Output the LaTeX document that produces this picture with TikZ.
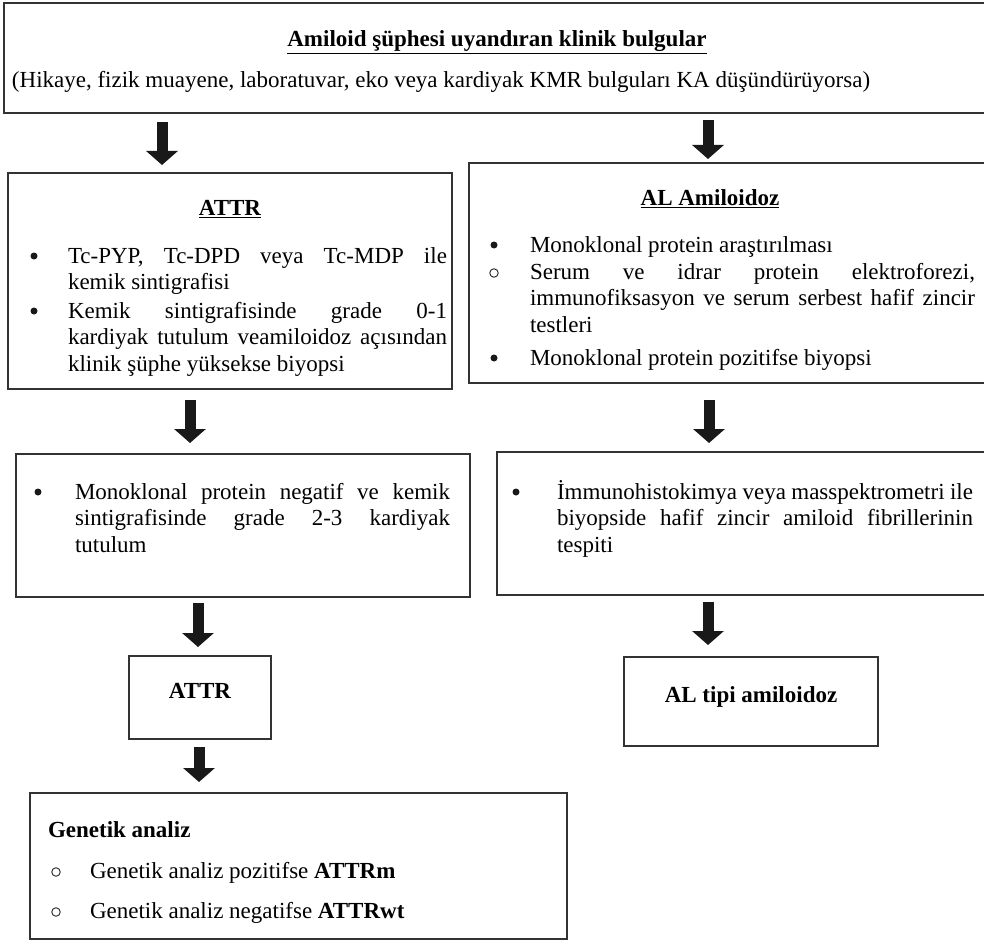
\documentclass[tikz,border=0pt]{standalone}
\usepackage{fontspec}
\setmainfont{Liberation Serif}
\usetikzlibrary{arrows.meta}
\hbadness=10000
\hfuzz=20pt
\tikzset{
 box/.style={draw=black!80, line width=1.3pt, inner sep=0pt, outer sep=0pt, anchor=north west},
 txt/.style={inner sep=0pt, outer sep=0pt, anchor=base west, font=\fontsize{23}{26.5}\selectfont},
 ctxt/.style={inner sep=0pt, outer sep=0pt, anchor=base, font=\bfseries\fontsize{23}{26.5}\selectfont},
 btxt/.style={inner sep=0pt, outer sep=0pt, anchor=base west, font=\bfseries\fontsize{23}{26.5}\selectfont},
 fbullet/.style={circle, fill=black!90, inner sep=0pt, minimum size=7pt},
 hbullet/.style={circle, draw=black!85, line width=0.9pt, inner sep=0pt, minimum size=8.5pt},
 blockarrow/.style={line width=11pt, draw=black!90, -{Triangle[width=31pt,length=14pt]}},
}
\newcommand{\para}[2]{\parbox[t]{#1pt}{\fontsize{23}{26.5}\selectfont #2}}
\begin{document}
\begin{tikzpicture}[x=1pt,y=-1pt]
\useasboundingbox (0,0) rectangle (984,941);
\fill[white] (0,0) rectangle (984,941);
% boxes
\node[box, minimum width=1000pt, minimum height=110pt] (top) at (4,3) {};
\node[box, minimum width=444pt, minimum height=216pt] (attr) at (8,173) {};
\node[box, minimum width=530pt, minimum height=220pt] (al) at (469,163) {};
\node[box, minimum width=454pt, minimum height=143pt] (mono) at (16,454) {};
\node[box, minimum width=500pt, minimum height=143pt] (immuno) at (497,452) {};
\node[box, minimum width=142pt, minimum height=83pt] (attrs) at (129,656) {};
\node[box, minimum width=254pt, minimum height=89pt] (altipi) at (624,657) {};
\node[box, minimum width=537pt, minimum height=146pt] (genetik) at (30,793) {};
% top texts
\node[ctxt] (t1) at (497,47) {\underline{Amiloid şüphesi uyandıran klinik bulgular}};
\node[txt] (t2) at (12,88) {(Hikaye, fizik muayene, laboratuvar, eko veya kardiyak KMR bulguları KA düşündürüyorsa)};
% ATTR box
\node[ctxt] (attrT) at (230,216) {\underline{ATTR}};
\node[fbullet] (ab1) at (34,256) {};
\node[txt] (ai1) at (68,263) {\para{379}{Tc-PYP, Tc-DPD veya Tc-MDP ile\linebreak kemik sintigrafisi}};
\node[fbullet] (ab2) at (34,311) {};
\node[txt] (ai2) at (68,318) {\para{379}{Kemik sintigrafisinde grade 0-1\linebreak kardiyak tutulum veamiloidoz açısından\linebreak klinik şüphe yüksekse biyopsi}};
% AL box
\node[ctxt] (alT) at (710,206) {\underline{AL Amiloidoz}};
\node[fbullet] (lb1) at (494,245) {};
\node[txt] (li1) at (530,252) {Monoklonal protein araştırılması};
\node[hbullet] (lb2) at (494,273) {};
\node[txt] (li2) at (530,279) {\para{445}{Serum ve idrar protein elektroforezi,\linebreak immunofiksasyon ve serum serbest hafif zincir\linebreak testleri}};
\node[fbullet] (lb3) at (494,358) {};
\node[txt] (li3) at (530,365) {Monoklonal protein pozitifse biyopsi};
% mono box
\node[fbullet] (mb1) at (38,492) {};
\node[txt] (mi1) at (75,499) {\para{375}{Monoklonal protein negatif ve kemik\linebreak sintigrafisinde grade 2-3 kardiyak\linebreak tutulum}};
% immuno box
\node[fbullet] (ib1) at (516,492) {};
\node[txt] (ii1) at (557,499) {\para{416}{İmmunohistokimya veya masspektrometri ile\linebreak biyopside hafif zincir amiloid fibrillerinin\linebreak tespiti}};
% small boxes
\node[ctxt] (attrsT) at (200,698) {ATTR};
\node[ctxt] (altipiT) at (751,702) {AL tipi amiloidoz};
% genetik
\node[btxt] (gT) at (48,837) {Genetik analiz};
\node[hbullet] (gb1) at (56,872) {};
\node[txt] (gi1) at (90,878) {Genetik analiz pozitifse \textbf{ATTRm}};
\node[hbullet] (gb2) at (56,912) {};
\node[txt] (gi2) at (90,918) {Genetik analiz negatifse \textbf{ATTRwt}};
% arrow x positions
\coordinate (x1) at (162,0);
\coordinate (x2) at (708,0);
\coordinate (x3) at (190,0);
\coordinate (x4) at (709,0);
\coordinate (x5) at (198,0);
\coordinate (x6) at (708,0);
\coordinate (x7) at (199,0);
% arrows
\draw[blockarrow, shorten <=9pt, shorten >=8pt] (top.south -| x1) -- (attr.north -| x1);
\draw[blockarrow, shorten <=7pt, shorten >=4pt] (top.south -| x2) -- (al.north -| x2);
\draw[blockarrow, shorten <=11pt, shorten >=11pt] (attr.south -| x3) -- (mono.north -| x3);
\draw[blockarrow, shorten <=17pt, shorten >=9pt] (al.south -| x4) -- (immuno.north -| x4);
\draw[blockarrow, shorten <=6pt, shorten >=9pt] (mono.south -| x5) -- (attrs.north -| x5);
\draw[blockarrow, shorten <=7pt, shorten >=12pt] (immuno.south -| x6) -- (altipi.north -| x6);
\draw[blockarrow, shorten <=8pt, shorten >=11pt] (attrs.south -| x7) -- (genetik.north -| x7);
\end{tikzpicture}
\end{document}
